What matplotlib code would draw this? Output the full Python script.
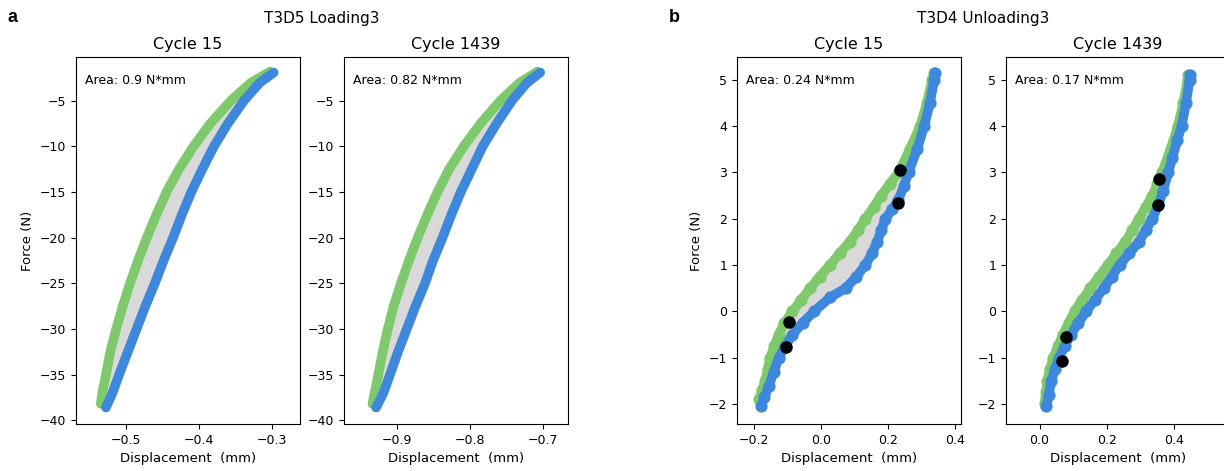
import numpy as np
import matplotlib
matplotlib.use("Agg")
import matplotlib.pyplot as plt

plt.rcParams["font.family"] = "DejaVu Sans"

GREEN = "#7ec96b"
BLUE = "#3d88dc"
GRAY = "#d9d9d9"

# ---- T3D5 Loading3, cycle 15 ----
a15_green_x = [-0.302, -0.328, -0.356, -0.384, -0.407, -0.427, -0.444, -0.458, -0.471, -0.483,
               -0.494, -0.504, -0.513, -0.521, -0.527, -0.532, -0.534]
a15_green_y = [-1.8, -3.0, -5.0, -7.5, -10.0, -12.5, -15.0, -17.5, -20.0, -22.5,
               -25.0, -27.5, -30.0, -32.5, -35.0, -37.0, -38.2]
a15_blue_x = [-0.297, -0.316, -0.338, -0.360, -0.379, -0.395, -0.410, -0.423, -0.435, -0.448,
              -0.460, -0.473, -0.485, -0.497, -0.509, -0.518, -0.527]
a15_blue_y = [-1.9, -3.0, -5.0, -7.5, -10.0, -12.5, -15.0, -17.5, -20.0, -22.5,
              -25.0, -27.5, -30.0, -32.5, -35.0, -37.0, -38.6]

# ---- T3D5 Loading3, cycle 1439 ----
a1439_green_x = [-0.708, -0.732, -0.759, -0.786, -0.809, -0.829, -0.845, -0.859, -0.872, -0.884,
                 -0.895, -0.905, -0.913, -0.920, -0.926, -0.931, -0.934]
a1439_green_y = [-1.8, -3.0, -5.0, -7.5, -10.0, -12.5, -15.0, -17.5, -20.0, -22.5,
                 -25.0, -27.5, -30.0, -32.5, -35.0, -37.0, -38.2]
a1439_blue_x = [-0.704, -0.722, -0.743, -0.764, -0.783, -0.798, -0.813, -0.826, -0.838, -0.851,
                -0.862, -0.875, -0.887, -0.899, -0.910, -0.919, -0.929]
a1439_blue_y = [-1.9, -3.0, -5.0, -7.5, -10.0, -12.5, -15.0, -17.5, -20.0, -22.5,
                -25.0, -27.5, -30.0, -32.5, -35.0, -37.0, -38.6]

# ---- T3D4 Unloading3, cycle 15 ----
b15_green_x = [-0.186, -0.176, -0.168, -0.160, -0.153, -0.140, -0.127, -0.110, -0.086, -0.060,
               -0.033, -0.005, 0.026, 0.055, 0.085, 0.110, 0.132, 0.157, 0.179, 0.205,
               0.232, 0.265, 0.296, 0.316, 0.332, 0.338]
b15_green_y = [-1.90, -1.70, -1.50, -1.25, -1.00, -0.75, -0.50, -0.25, 0.00, 0.25,
               0.50, 0.75, 1.00, 1.25, 1.50, 1.75, 2.00, 2.25, 2.50, 2.75,
               3.00, 3.50, 4.00, 4.50, 5.00, 5.15]
b15_blue_x = [-0.180, -0.170, -0.156, -0.142, -0.127, -0.108, -0.086, -0.056, -0.021, 0.026,
              0.073, 0.105, 0.132, 0.152, 0.167, 0.180, 0.192, 0.212, 0.230, 0.247,
              0.261, 0.287, 0.308, 0.325, 0.338, 0.340]
b15_blue_y = [-2.05, -1.85, -1.60, -1.30, -1.00, -0.75, -0.50, -0.25, 0.00, 0.30,
              0.50, 0.75, 1.00, 1.25, 1.50, 1.75, 2.00, 2.20, 2.40, 2.70,
              3.00, 3.50, 4.00, 4.50, 5.00, 5.15]
b15_marks_x = [0.235, 0.229, -0.095, -0.105]
b15_marks_y = [3.05, 2.35, -0.23, -0.77]

# ---- T3D4 Unloading3, cycle 1439 ----
b1439_green_x = [0.015, 0.019, 0.023, 0.031, 0.041, 0.055, 0.070, 0.087, 0.104, 0.127,
                 0.151, 0.177, 0.203, 0.229, 0.255, 0.276, 0.296, 0.316, 0.336, 0.351,
                 0.365, 0.390, 0.412, 0.428, 0.441, 0.443]
b1439_green_y = [-1.98, -1.75, -1.50, -1.25, -1.00, -0.75, -0.50, -0.25, 0.00, 0.25,
                 0.50, 0.75, 1.00, 1.25, 1.50, 1.75, 2.00, 2.25, 2.50, 2.75,
                 3.00, 3.50, 4.00, 4.50, 5.00, 5.10]
b1439_blue_x = [0.020, 0.027, 0.035, 0.046, 0.058, 0.075, 0.093, 0.115, 0.139, 0.165,
                0.191, 0.215, 0.238, 0.267, 0.296, 0.316, 0.336, 0.354, 0.368, 0.383,
                0.395, 0.410, 0.423, 0.436, 0.447, 0.448]
b1439_blue_y = [-2.05, -1.80, -1.50, -1.25, -1.00, -0.75, -0.50, -0.25, 0.00, 0.25,
                0.50, 0.75, 1.00, 1.25, 1.50, 1.75, 2.00, 2.30, 2.60, 3.00,
                3.30, 3.70, 4.00, 4.50, 5.00, 5.10]
b1439_marks_x = [0.357, 0.354, 0.078, 0.066]
b1439_marks_y = [2.86, 2.30, -0.56, -1.08]

panels = [
    ("Cycle 15", "Area: 0.9 N*mm", a15_green_x, a15_green_y, a15_blue_x, a15_blue_y,
     None, None, (-0.568, -0.261), (-40.4, -0.2), False),
    ("Cycle 1439", "Area: 0.82 N*mm", a1439_green_x, a1439_green_y, a1439_blue_x, a1439_blue_y,
     None, None, (-0.973, -0.666), (-40.4, -0.2), False),
    ("Cycle 15", "Area: 0.24 N*mm", b15_green_x, b15_green_y, b15_blue_x, b15_blue_y,
     b15_marks_x, b15_marks_y, (-0.252, 0.418), (-2.43, 5.49), True),
    ("Cycle 1439", "Area: 0.17 N*mm", b1439_green_x, b1439_green_y, b1439_blue_x, b1439_blue_y,
     b1439_marks_x, b1439_marks_y, (-0.1, 0.567), (-2.43, 5.49), True),
]

W, H = 1224, 471
fig = plt.figure(figsize=(W / 100, H / 100), dpi=100)
lefts = [76, 344, 737, 1006]
axes = []
for left, p in zip(lefts, panels):
    title, area, gx, gy, bx, by, mx, my, xlim, ylim, dots = p
    ax = fig.add_axes([left / W, 47 / H, 224 / W, 367 / H])
    # grey area enclosed by the two branches
    ax.fill(np.concatenate([gx, bx[::-1]]), np.concatenate([gy, by[::-1]]),
            color=GRAY, lw=0, zorder=1)
    mk = "o" if dots else None
    ax.plot(gx, gy, color=GREEN, lw=6.9, marker=mk, ms=7.8,
            solid_capstyle="round", solid_joinstyle="round", zorder=2)
    ax.plot(bx, by, color=BLUE, lw=6.9, marker=mk, ms=7.8,
            solid_capstyle="round", solid_joinstyle="round", zorder=3)
    if mx is not None:
        ax.scatter(mx, my, s=64, color="black", zorder=4)
    ax.set_xlim(*xlim)
    ax.set_ylim(*ylim)
    ax.set_title(title, fontsize=11.5)
    ax.text(0.04, 0.955, area, transform=ax.transAxes, fontsize=9, va="top")
    ax.set_xlabel("Displacement  (mm)", fontsize=9.5)
    ax.tick_params(labelsize=9)
    axes.append(ax)

axes[0].set_ylabel("Force (N)", fontsize=9.5)
axes[2].set_ylabel("Force (N)", fontsize=9.5)
axes[2].set_xticks([-0.2, 0.0, 0.2, 0.4])
axes[3].set_xticks([0.0, 0.2, 0.4])

fig.text(322 / W, 1 - 18 / H, "T3D5 Loading3", ha="center", va="center", fontsize=11)
fig.text(983 / W, 1 - 18 / H, "T3D4 Unloading3", ha="center", va="center", fontsize=11)
fig.text(12 / W, 1 - 18 / H, "a", ha="center", va="center", fontsize=13, fontweight="bold",
         family="Liberation Sans")
fig.text(674 / W, 1 - 18 / H, "b", ha="center", va="center", fontsize=13, fontweight="bold",
         family="Liberation Sans")

fig.savefig("out.png", dpi=100)
